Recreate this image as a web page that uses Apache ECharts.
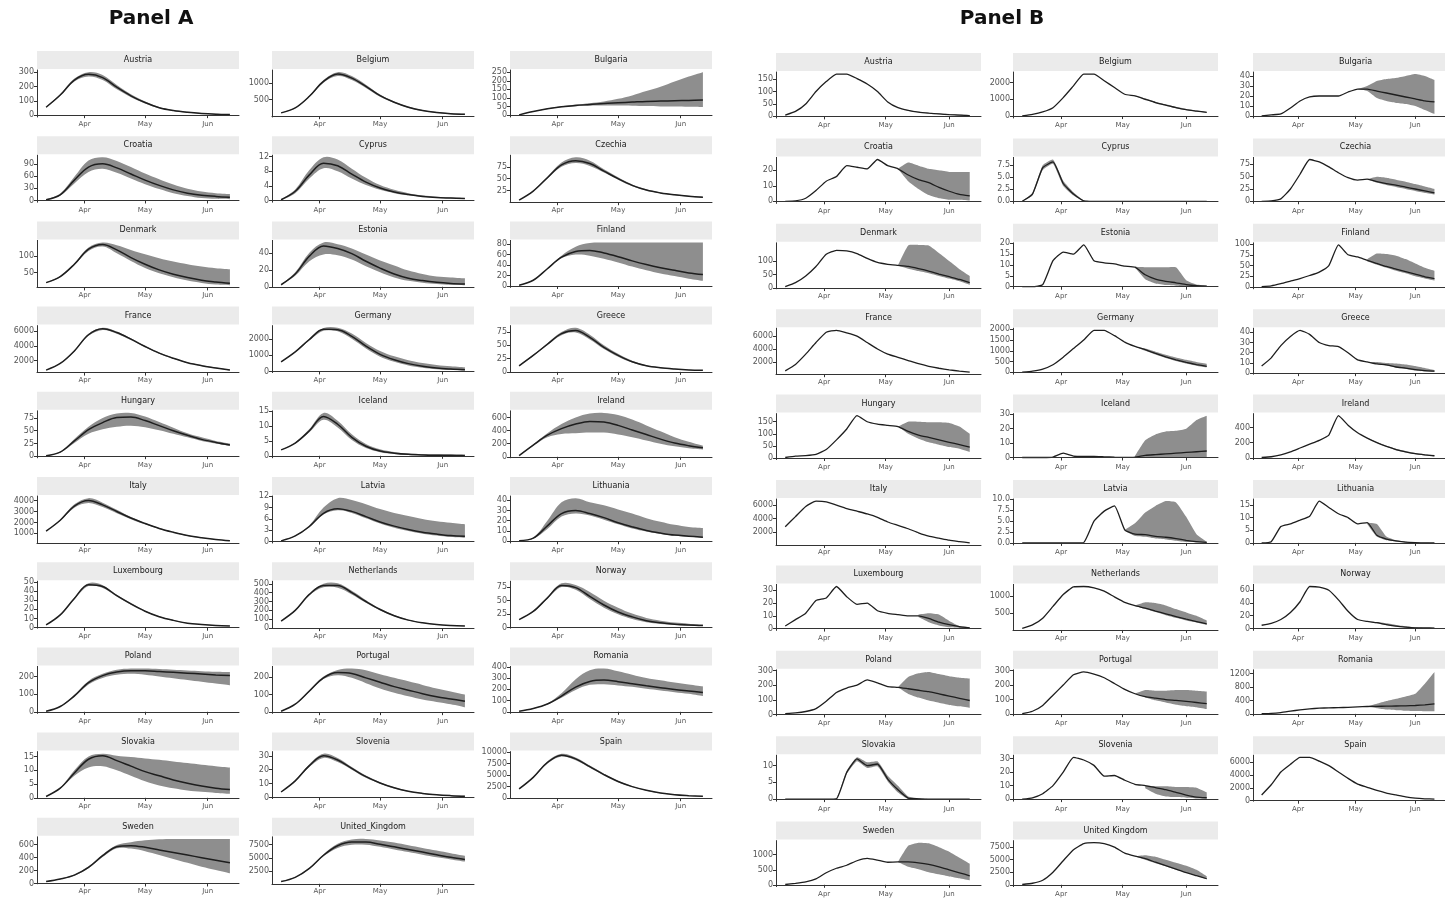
<!DOCTYPE html>
<html><head><meta charset="utf-8">
<script src="https://cdn.jsdelivr.net/npm/echarts@6/dist/echarts.min.js"></script>
<style>html,body{margin:0;padding:0;background:#fff}#c{width:1445px;height:902px}</style>
</head><body><div id="c"></div><script>
const _ = null;
// x values are day offsets from 1 March 2020
const monthTicks = [31, 61, 92];
const monthLabels = ['Apr', 'May', 'Jun'];
const daysA = [12,19,26,33,40,47,54,61,68,75,82,89,96,103];
const daysB = [12,17,22,27,32,37,42,47,52,57,62,67,72,77,82,87,92,97,102];

// ---------- Panel A ----------
const aAustriaMid=[55,140,245,285,262,195,135,88,52,32,20,12,7,4];
const aAustriaLo=[53,135,235,270,245,180,125,82,48,29,17,10,5,2];
const aAustriaHi=[57,145,255,300,280,210,145,95,57,36,23,15,10,7];
const aAustriaTicks=[0,100,200,300];
const aBelgiumMid=[100,250,600,1050,1270,1150,900,620,420,270,170,110,75,55];
const aBelgiumLo=[95,240,580,1010,1210,1090,850,585,395,250,155,95,60,40];
const aBelgiumHi=[105,260,620,1090,1330,1210,950,655,445,290,185,125,90,75];
const aBelgiumTicks=[500,1000];
const aBulgariaMid=[2,21,37,49,57,62,68,72,76,80,82,84,86,88];
const aBulgariaLo=[2,20,35,46,52,55,56,56,55,53,51,50,49,48];
const aBulgariaHi=[2,22,39,52,62,70,80,95,115,140,165,195,225,250];
const aBulgariaTicks=[0,50,100,150,200,250];
const aCroatiaMid=[2,14,50,82,90,80,65,50,37,26,18,13,10,8];
const aCroatiaLo=[1,12,42,70,78,68,54,40,28,18,11,6,4,3];
const aCroatiaHi=[3,17,58,98,106,97,82,66,52,39,29,22,18,16];
const aCroatiaTicks=[0,30,60,90];
const aCyprusMid=[0.2,2.5,7.0,10.2,9.5,7.2,5.0,3.4,2.3,1.6,1.1,0.8,0.65,0.5];
const aCyprusLo=[0.1,2.0,6.0,8.8,8.0,6.0,4.2,2.9,2.0,1.4,1.0,0.7,0.55,0.45];
const aCyprusHi=[0.3,3.0,8.3,11.8,11.2,8.7,6.2,4.2,2.9,2.0,1.4,1.0,0.8,0.65];
const aCyprusTicks=[0,4,8,12];
const aCzechiaMid=[5,24,52,79,88,82,66,50,36,26,20,16,13,11];
const aCzechiaLo=[5,23,50,75,83,77,63,48,34,25,19,15,12,10];
const aCzechiaHi=[5,25,54,84,95,88,70,53,38,28,21,17,14,12];
const aCzechiaTicks=[25,50,75,100];
const aDenmarkMid=[20,38,75,120,134,118,95,75,58,45,35,27,22,18];
const aDenmarkLo=[19,36,72,115,128,108,85,64,48,36,26,19,14,12];
const aDenmarkHi=[21,40,78,125,140,132,118,105,93,83,75,68,63,60];
const aDenmarkTicks=[0,50,100];
const aEstoniaMid=[2.4,15,36,48,45,39,30,22,15,10,7.3,5.3,4,3.3];
const aEstoniaLo=[2.2,13,30,38,37,32,24,17,11,7,4.8,3.3,2.3,1.8];
const aEstoniaHi=[2.6,17,40,52,50,45,38,31,25,19,15,12,11,10];
const aEstoniaTicks=[0,20,40];
const aFinlandMid=[1.5,11,33,55,66,68,63,56,48,41,35,30,25,22];
const aFinlandLo=[1.4,10.5,32,53,60,58,52,45,37,30,24,19,14,10];
const aFinlandHi=[1.6,11.5,34,58,75,82,83,83,83,83,83,83,83,83];
const aFinlandTicks=[0,20,40,60,80];
const aFranceMid=[700,1600,3300,5500,6300,5800,4900,3900,3000,2300,1700,1300,1000,700];
const aFranceLo=[680,1550,3200,5350,6150,5650,4780,3800,2920,2230,1650,1250,950,650];
const aFranceHi=[720,1650,3400,5650,6450,5950,5020,4000,3080,2370,1750,1350,1050,750];
const aFranceTicks=[2000,4000,6000];
const aGermanyMid=[590,1200,1960,2580,2560,2150,1550,1050,720,480,320,210,150,110];
const aGermanyLo=[570,1170,1900,2500,2460,2000,1400,900,590,370,230,140,90,60];
const aGermanyHi=[610,1230,2020,2660,2680,2320,1750,1260,930,690,520,400,320,260];
const aGermanyTicks=[0,1000,2000];
const aGreeceMid=[11.5,31,52,72,78,65,46,31,19,11.5,7.7,5.4,3.8,3];
const aGreeceLo=[11,30,50,69,74,61,43,28.5,17.5,10.5,7,4.9,3.4,2.7];
const aGreeceHi=[12,32,54,75,83,70,50,34,21,12.5,8.4,5.9,4.2,3.3];
const aGreeceTicks=[0,25,50,75];
const aHungaryMid=[1,8,30,52,66,76,77,70,60,50,41,33,27,22];
const aHungaryLo=[1,7,26,44,53,58,60,57,51,44,37,30,25,20];
const aHungaryHi=[1,9,34,58,75,84,85,78,67,56,45,37,30,25];
const aHungaryTicks=[0,25,50,75];
const aIcelandMid=[2,4.3,8.4,13.2,10.6,6.2,3.2,1.6,0.9,0.5,0.3,0.2,0.15,0.1];
const aIcelandLo=[1.9,4.1,7.9,12.1,9.5,5.3,2.6,1.2,0.6,0.3,0.15,0.1,0.05,0.05];
const aIcelandHi=[2.1,4.5,9,14.4,11.8,7.2,4,2.2,1.3,0.8,0.6,0.5,0.4,0.35];
const aIcelandTicks=[0,5,10,15];
const aIrelandMid=[20,180,330,430,500,540,530,480,410,340,270,210,170,140];
const aIrelandLo=[18,170,300,350,360,370,370,340,300,250,200,160,130,110];
const aIrelandHi=[22,190,360,500,600,660,670,640,570,480,390,300,230,170];
const aIrelandTicks=[0,200,400,600];
const aItalyMid=[1200,2200,3500,4000,3600,3000,2400,1900,1450,1100,800,600,450,330];
const aItalyLo=[1180,2150,3350,3780,3400,2850,2300,1830,1400,1060,770,575,430,315];
const aItalyHi=[1220,2250,3650,4220,3800,3150,2500,1970,1500,1140,830,625,470,345];
const aItalyTicks=[1000,2000,3000,4000];
const aLatviaMid=[0.2,1.5,4,7.5,8.7,8,6.6,5.2,4.1,3.2,2.5,2,1.6,1.4];
const aLatviaLo=[0.2,1.4,3.8,7.2,8.3,7.6,6.2,4.8,3.7,2.8,2.1,1.6,1.2,1];
const aLatviaHi=[0.2,1.6,4.3,9,11.5,11,9.9,8.6,7.6,6.8,6,5.4,5,4.6];
const aLatviaTicks=[0,3,6,9,12];
const aLithuaniaMid=[0.5,3,15,27,30,27,23,18,14,10.5,8,6,5,4];
const aLithuaniaLo=[0.4,2.5,12,24,27,25,21,16.5,12.5,9.5,7,5.3,4.2,3.5];
const aLithuaniaHi=[0.6,3.5,20,38,42,38,35,31,27,22.5,19,16,14,13];
const aLithuaniaTicks=[0,10,20,30,40];
const aLuxembourgMid=[3,14,32,47,45,35,26,18,12,8,5,3.5,2.5,2];
const aLuxembourgLo=[2.9,13.5,31,45.5,43.5,34,25,17.4,11.6,7.7,4.8,3.3,2.3,1.8];
const aLuxembourgHi=[3.1,14.5,33,48.5,46.5,36,27,18.6,12.4,8.3,5.2,3.7,2.7,2.2];
const aLuxembourgTicks=[0,10,20,30,40,50];
const aNetherlandsMid=[80,200,380,480,480,400,300,210,140,90,60,40,30,25];
const aNetherlandsLo=[78,195,370,460,455,380,285,200,133,85,57,38,28,23];
const aNetherlandsHi=[82,205,390,500,505,420,315,220,147,95,63,42,32,27];
const aNetherlandsTicks=[0,100,200,300,400,500];
const aNorwayMid=[15,30,55,78,74,58,42,29,20,13,9,6.5,5,4];
const aNorwayLo=[15,29,53,75,70,53,37,25,16,10,7,5,3.8,3];
const aNorwayHi=[15,31,57,82,79,66,50,37,26,18,13,9.5,7.5,6];
const aNorwayTicks=[0,25,50,75];
const aPolandMid=[3,30,90,165,205,225,232,232,228,224,219,214,209,205];
const aPolandLo=[3,28,84,155,192,210,215,210,200,190,180,170,160,150];
const aPolandHi=[3,32,96,175,215,238,245,245,242,238,234,230,227,225];
const aPolandTicks=[0,100,200];
const aPortugalMid=[5,45,120,195,225,220,195,170,145,125,105,88,75,62];
const aPortugalLo=[5,43,115,188,210,195,165,135,110,90,72,58,45,28];
const aPortugalHi=[5,47,125,202,240,248,238,215,195,175,155,135,118,100];
const aPortugalTicks=[0,100,200];
const aRomaniaMid=[5,30,70,140,220,270,282,268,250,232,215,198,185,172];
const aRomaniaLo=[5,28,65,125,195,240,245,235,222,205,190,175,160,140];
const aRomaniaHi=[5,32,75,165,290,370,385,360,330,300,280,260,242,225];
const aRomaniaTicks=[0,100,200,300,400];
const aSlovakiaMid=[0.5,3.5,9,14,15.3,13.5,11.5,9.5,8,6.5,5.3,4.3,3.5,3];
const aSlovakiaLo=[0.5,3.3,8,11,11.5,10,8,6,4.5,3.5,2.7,2.2,1.8,1.5];
const aSlovakiaHi=[0.5,3.7,10,15,16,15.3,14.8,14.3,13.8,13.2,12.6,12,11.5,11];
const aSlovakiaTicks=[0,5,10,15];
const aSloveniaMid=[4,12,23,30,27,21,15,10.5,7,4.5,3,2,1.4,1];
const aSloveniaLo=[3.9,11.5,22,28.5,25.5,20,14.2,10,6.6,4.2,2.8,1.8,1.2,0.8];
const aSloveniaHi=[4.1,12.5,24,31.5,28.5,22,15.8,11,7.4,4.8,3.2,2.2,1.6,1.2];
const aSloveniaTicks=[0,10,20,30];
const aSpainMid=[2000,4500,7700,9300,8500,6800,5100,3600,2500,1700,1100,750,550,400];
const aSpainLo=[1950,4400,7450,9000,8200,6550,4900,3450,2400,1630,1050,710,520,370];
const aSpainHi=[2050,4600,7950,9600,8800,7050,5300,3750,2600,1770,1150,790,580,430];
const aSpainTicks=[0,2500,5000,7500,10000];
const aSwedenMid=[30,70,130,250,430,570,585,560,520,480,440,400,360,320];
const aSwedenLo=[28,65,120,235,410,545,540,500,440,380,320,260,210,160];
const aSwedenHi=[32,75,140,265,450,595,640,670,685,690,690,690,690,690];
const aSwedenTicks=[0,200,400,600];
const aUKMid=[500,1300,3000,5500,7300,8000,8000,7600,7100,6600,6100,5600,5100,4700];
const aUKLo=[480,1250,2900,5300,6900,7500,7500,7100,6600,6100,5600,5100,4700,4300];
const aUKHi=[520,1350,3100,5700,7700,8500,8600,8300,7900,7400,6900,6400,5900,5400];
const aUKTicks=[2500,5000,7500];

// ---------- Panel B ----------
const bAustriaMid=[5,20,50,100,140,170,170,152,130,100,58,35,24,17,13,10,7,5,3];
const bAustriaLo=[_,_,_,_,_,_,_,_,_,_,_,35,23,16,12,9,6,4,2];
const bAustriaHi=[_,_,_,_,_,_,_,_,_,_,_,35,25,19,15,12,10,8,6];
const bAustriaTicks=[0,50,100,150];
const bBelgiumMid=[10,100,250,500,1100,1800,2500,2500,2100,1700,1300,1200,1000,800,650,500,380,300,220];
const bBelgiumLo=[_,_,_,_,_,_,_,_,_,_,_,1200,980,770,620,470,350,270,190];
const bBelgiumHi=[_,_,_,_,_,_,_,_,_,_,_,1200,1060,860,700,550,420,330,250];
const bBelgiumTicks=[0,1000,2000];
const bBulgariaMid=[0,1,2,8,15,19,20,20,20,24,27,27,25,23,21,19,17,15,14];
const bBulgariaLo=[_,_,_,_,_,_,_,_,_,_,27,25,18,15,13,12,10,6,2];
const bBulgariaHi=[_,_,_,_,_,_,_,_,_,_,27,30,35,37,38,40,42,40,36];
const bBulgariaTicks=[0,10,20,30,40];
const bCroatiaMid=[0,0.3,2,7,13,16,23,22,21,27,23,21,17,14,12,9,6.5,4.5,3.5];
const bCroatiaLo=[_,_,_,_,_,_,_,_,_,_,_,21,13,8,4,2,1,1,0.5];
const bCroatiaHi=[_,_,_,_,_,_,_,_,_,_,_,21,25,23,21,20,19,19,19];
const bCroatiaTicks=[0,10,20];
const bCyprusMid=[0,1.5,7,8.2,3.7,1.5,0.1,0,0,0,0,0,0,0,0,0,0,0,0];
const bCyprusLo=[0,1.2,6.5,7.8,3.2,1.2,0,0,0,0,0,0,0,0,0,0,0,0,0];
const bCyprusHi=[0,1.8,7.5,8.7,4.3,1.9,0.2,0,0,0,0,0,0,0,0,0,0,0,0];
const bCyprusTicks=[0,2.5,5,7.5];
const bCzechiaMid=[0,1,5,25,55,85,80,70,58,48,43,45,40,36,33,29,25,21,17];
const bCzechiaLo=[_,_,_,_,_,_,_,_,_,_,_,45,38,33,29,25,21,17,14];
const bCzechiaHi=[_,_,_,_,_,_,_,_,_,_,_,45,50,48,44,40,35,30,25];
const bCzechiaTicks=[0,25,50,75];
const bDenmarkMid=[5,20,45,80,125,140,138,128,110,95,88,84,80,72,63,52,42,32,20];
const bDenmarkLo=[_,_,_,_,_,_,_,_,_,_,_,84,72,63,55,45,35,25,12];
const bDenmarkHi=[_,_,_,_,_,_,_,_,_,_,_,84,158,160,158,130,100,70,45];
const bDenmarkTicks=[0,50,100];
const bEstoniaMid=[0,0,1,12,16,15,19.3,12,11,10.5,9.5,9,5.5,3.5,2.5,1.8,1,0.5,0.3];
const bEstoniaLo=[_,_,_,_,_,_,_,_,_,_,_,9,3.5,1.5,0.8,0.5,0.3,0.1,0];
const bEstoniaHi=[_,_,_,_,_,_,_,_,_,_,_,9.2,9,9,9,9,3,1,0.5];
const bEstoniaTicks=[0,5,10,15,20];
const bFinlandMid=[1,3,8,14,20,27,35,50,98,75,70,62,55,48,42,36,30,24,20];
const bFinlandLo=[_,_,_,_,_,_,_,_,_,_,_,60,52,45,38,32,25,20,15];
const bFinlandHi=[_,_,_,_,_,_,_,_,_,_,_,65,78,77,73,65,55,45,38];
const bFinlandTicks=[0,25,50,75,100];
const bFranceMid=[600,1600,3200,5000,6600,6900,6500,6000,5000,4000,3200,2700,2200,1700,1300,1000,750,550,400];
const bFranceTicks=[0,2000,4000,6000];
const bGermanyMid=[10,60,150,350,700,1100,1500,1950,1950,1700,1400,1200,1050,880,720,580,460,360,280];
const bGermanyLo=[_,_,_,_,_,_,_,_,_,_,_,1200,1000,830,670,530,410,310,230];
const bGermanyHi=[_,_,_,_,_,_,_,_,_,_,_,1200,1100,960,820,690,580,480,400];
const bGermanyTicks=[0,500,1000,1500,2000];
const bGreeceMid=[7,15,27,36,42,38,30,27,26,20,13,11,9,8,6,5,3.5,2.5,2];
const bGreeceLo=[_,_,_,_,_,_,_,_,_,_,_,11,9,7.5,5.5,4,2.5,1.5,1];
const bGreeceHi=[_,_,_,_,_,_,_,_,_,_,_,11,11,10,9.5,8.5,7,5,3];
const bGreeceTicks=[0,10,20,30,40];
const bHungaryMid=[2,8,10,15,35,75,120,175,150,140,135,130,110,95,85,75,65,55,45];
const bHungaryLo=[_,_,_,_,_,_,_,_,_,_,_,130,100,80,65,55,45,38,25];
const bHungaryHi=[_,_,_,_,_,_,_,_,_,_,_,130,150,150,148,148,145,130,100];
const bHungaryTicks=[0,50,100,150];
const bIcelandMid=[0,0,0,0.3,3,1,0.8,0.8,0.5,0.2,0.1,0.3,1.5,2,2.5,3,3.5,4,4.5];
const bIcelandLo=[_,_,_,_,_,_,_,_,_,_,_,0.1,0,0,0,0,0,0,0];
const bIcelandHi=[_,_,_,_,_,_,_,_,_,_,_,1,12,16,18,18.5,20,26,29];
const bIcelandTicks=[0,10,20,30];
const bIrelandMid=[5,15,40,80,130,180,230,300,555,430,330,260,200,150,110,80,55,40,28];
const bIrelandLo=[_,_,_,_,_,_,_,_,_,_,_,260,195,145,100,70,48,32,22];
const bIrelandHi=[_,_,_,_,_,_,_,_,_,_,_,260,210,160,120,90,65,48,35];
const bIrelandTicks=[0,200,400];
const bItalyMid=[2800,4300,5800,6600,6500,6000,5500,5100,4700,4200,3500,3000,2500,1900,1400,1100,800,600,400];
const bItalyTicks=[2000,4000,6000];
const bLatviaMid=[0,0,0,0,0,0,0.1,5,7.3,8.5,3,2,1.9,1.5,1.3,1,0.6,0.3,0.1];
const bLatviaLo=[_,_,_,_,_,_,_,_,_,_,2.8,1.6,1.4,1,0.8,0.5,0.2,0.1,0];
const bLatviaHi=[_,_,_,_,_,_,_,_,_,_,3,4.5,7,8.5,9.6,9.3,6,2,0.3];
const bLatviaTicks=[0,2.5,5,7.5,10];
const bLithuaniaMid=[0,0.5,6.5,7.5,9,10.5,16.5,14,11.5,10,7.5,8,3,1.5,0.8,0.3,0.1,0,0];
const bLithuaniaLo=[_,_,_,_,_,_,_,_,_,_,_,7.5,2.5,1,0.5,0.2,0,0,0];
const bLithuaniaHi=[_,_,_,_,_,_,_,_,_,_,_,8,7.5,2.5,1,0.5,0.2,0.1,0];
const bLithuaniaTicks=[0,5,10,15];
const bLuxembourgMid=[2,7,12,22,24,33,25,19,20,14,12,11,10,10,8,5,3,1.5,0.5];
const bLuxembourgLo=[_,_,_,_,_,_,_,_,_,_,_,_,_,9,5,2.5,1,0.5,0.2];
const bLuxembourgHi=[_,_,_,_,_,_,_,_,_,_,_,_,_,11,12,11,6,2,1];
const bLuxembourgTicks=[0,10,20,30];
const bNetherlandsMid=[50,150,350,700,1050,1280,1290,1250,1150,980,820,720,650,560,480,400,320,250,180];
const bNetherlandsLo=[_,_,_,_,_,_,_,_,_,_,_,720,620,530,440,360,280,220,150];
const bNetherlandsHi=[_,_,_,_,_,_,_,_,_,_,_,720,820,800,730,620,520,420,280];
const bNetherlandsTicks=[500,1000];
const bNorwayMid=[5,8,14,25,42,66,65,60,45,27,14,11,9,6,3.5,2,1,0.8,0.5];
const bNorwayLo=[_,_,_,_,_,_,_,_,_,_,_,11,8,5,3,1.5,0.5,0.3,0.2];
const bNorwayHi=[_,_,_,_,_,_,_,_,_,_,_,11,10,8,5.5,3.5,2,1.2,1];
const bNorwayTicks=[0,20,40,60];
const bPolandMid=[5,10,20,40,90,150,180,200,235,215,190,185,175,165,155,140,125,110,95];
const bPolandLo=[_,_,_,_,_,_,_,_,_,_,_,185,140,115,95,80,65,55,45];
const bPolandHi=[_,_,_,_,_,_,_,_,_,_,_,185,255,280,290,275,260,250,245];
const bPolandTicks=[0,100,200,300];
const bPortugalMid=[3,20,60,130,200,270,290,275,250,210,170,140,120,110,100,95,88,80,72];
const bPortugalLo=[_,_,_,_,_,_,_,_,_,_,_,140,115,95,80,65,55,48,35];
const bPortugalHi=[_,_,_,_,_,_,_,_,_,_,_,140,165,160,160,165,165,160,155];
const bPortugalTicks=[0,100,200,300];
const bRomaniaMid=[5,15,40,80,120,150,170,180,185,195,210,220,225,230,235,240,250,270,300];
const bRomaniaLo=[_,_,_,_,_,_,_,_,_,_,_,220,170,130,110,95,85,80,75];
const bRomaniaHi=[_,_,_,_,_,_,_,_,_,_,_,220,300,380,450,520,600,900,1250];
const bRomaniaTicks=[0,400,800,1200];
const bSlovakiaMid=[0,0,0,0,0,0.1,8,12,10,10.5,6,2.8,0.3,0.1,0,0,0,0,0];
const bSlovakiaLo=[0,0,0,0,0,0,7.5,11.3,9.3,9.8,5.3,2,0,0,0,0,0,0,0];
const bSlovakiaHi=[0,0,0,0,0,0.2,8.5,12.5,11,11.3,7,4,0.8,0.3,0,0,0,0,0];
const bSlovakiaTicks=[0,5,10];
const bSloveniaMid=[0,1,4,10,20,31,29,25,17,17.5,14,11,10,8.5,7,5,3,1.5,1];
const bSloveniaLo=[_,_,_,_,_,_,_,_,_,_,_,_,8,4,2,1.5,1,0.5,0.3];
const bSloveniaHi=[_,_,_,_,_,_,_,_,_,_,_,_,10,9.5,9.5,9,9,8.5,5];
const bSloveniaTicks=[0,10,20,30];
const bSpainMid=[900,2500,4500,5700,6800,6800,6200,5500,4500,3500,2600,2100,1600,1200,900,600,400,300,250];
const bSpainTicks=[0,2000,4000,6000];
const bSwedenMid=[10,50,100,200,400,550,650,800,880,820,750,760,760,730,680,600,500,400,300];
const bSwedenLo=[_,_,_,_,_,_,_,_,_,_,_,760,600,520,420,350,280,220,150];
const bSwedenHi=[_,_,_,_,_,_,_,_,_,_,_,760,1300,1400,1380,1250,1100,900,700];
const bSwedenTicks=[0,500,1000];
const bUKMid=[50,300,900,2500,4800,7000,8200,8400,8200,7500,6300,5700,5200,4500,3800,3100,2400,1800,1200];
const bUKLo=[_,_,_,_,_,_,_,_,_,_,_,5700,5000,4300,3700,3000,2400,1800,1100];
const bUKHi=[_,_,_,_,_,_,_,_,_,_,_,5700,5900,5600,5000,4400,3800,3000,1700];
const bUKTicks=[0,2500,5000,7500];

const panelsA = [
  ['Austria',aAustriaMid,aAustriaLo,aAustriaHi,aAustriaTicks],
  ['Belgium',aBelgiumMid,aBelgiumLo,aBelgiumHi,aBelgiumTicks],
  ['Bulgaria',aBulgariaMid,aBulgariaLo,aBulgariaHi,aBulgariaTicks],
  ['Croatia',aCroatiaMid,aCroatiaLo,aCroatiaHi,aCroatiaTicks],
  ['Cyprus',aCyprusMid,aCyprusLo,aCyprusHi,aCyprusTicks],
  ['Czechia',aCzechiaMid,aCzechiaLo,aCzechiaHi,aCzechiaTicks],
  ['Denmark',aDenmarkMid,aDenmarkLo,aDenmarkHi,aDenmarkTicks],
  ['Estonia',aEstoniaMid,aEstoniaLo,aEstoniaHi,aEstoniaTicks],
  ['Finland',aFinlandMid,aFinlandLo,aFinlandHi,aFinlandTicks],
  ['France',aFranceMid,aFranceLo,aFranceHi,aFranceTicks],
  ['Germany',aGermanyMid,aGermanyLo,aGermanyHi,aGermanyTicks],
  ['Greece',aGreeceMid,aGreeceLo,aGreeceHi,aGreeceTicks],
  ['Hungary',aHungaryMid,aHungaryLo,aHungaryHi,aHungaryTicks],
  ['Iceland',aIcelandMid,aIcelandLo,aIcelandHi,aIcelandTicks],
  ['Ireland',aIrelandMid,aIrelandLo,aIrelandHi,aIrelandTicks],
  ['Italy',aItalyMid,aItalyLo,aItalyHi,aItalyTicks],
  ['Latvia',aLatviaMid,aLatviaLo,aLatviaHi,aLatviaTicks],
  ['Lithuania',aLithuaniaMid,aLithuaniaLo,aLithuaniaHi,aLithuaniaTicks],
  ['Luxembourg',aLuxembourgMid,aLuxembourgLo,aLuxembourgHi,aLuxembourgTicks],
  ['Netherlands',aNetherlandsMid,aNetherlandsLo,aNetherlandsHi,aNetherlandsTicks],
  ['Norway',aNorwayMid,aNorwayLo,aNorwayHi,aNorwayTicks],
  ['Poland',aPolandMid,aPolandLo,aPolandHi,aPolandTicks],
  ['Portugal',aPortugalMid,aPortugalLo,aPortugalHi,aPortugalTicks],
  ['Romania',aRomaniaMid,aRomaniaLo,aRomaniaHi,aRomaniaTicks],
  ['Slovakia',aSlovakiaMid,aSlovakiaLo,aSlovakiaHi,aSlovakiaTicks],
  ['Slovenia',aSloveniaMid,aSloveniaLo,aSloveniaHi,aSloveniaTicks],
  ['Spain',aSpainMid,aSpainLo,aSpainHi,aSpainTicks],
  ['Sweden',aSwedenMid,aSwedenLo,aSwedenHi,aSwedenTicks],
  ['United_Kingdom',aUKMid,aUKLo,aUKHi,aUKTicks]
];
const panelsB = [
  ['Austria',bAustriaMid,bAustriaLo,bAustriaHi,bAustriaTicks],
  ['Belgium',bBelgiumMid,bBelgiumLo,bBelgiumHi,bBelgiumTicks],
  ['Bulgaria',bBulgariaMid,bBulgariaLo,bBulgariaHi,bBulgariaTicks],
  ['Croatia',bCroatiaMid,bCroatiaLo,bCroatiaHi,bCroatiaTicks],
  ['Cyprus',bCyprusMid,bCyprusLo,bCyprusHi,bCyprusTicks],
  ['Czechia',bCzechiaMid,bCzechiaLo,bCzechiaHi,bCzechiaTicks],
  ['Denmark',bDenmarkMid,bDenmarkLo,bDenmarkHi,bDenmarkTicks],
  ['Estonia',bEstoniaMid,bEstoniaLo,bEstoniaHi,bEstoniaTicks],
  ['Finland',bFinlandMid,bFinlandLo,bFinlandHi,bFinlandTicks],
  ['France',bFranceMid,null,null,bFranceTicks],
  ['Germany',bGermanyMid,bGermanyLo,bGermanyHi,bGermanyTicks],
  ['Greece',bGreeceMid,bGreeceLo,bGreeceHi,bGreeceTicks],
  ['Hungary',bHungaryMid,bHungaryLo,bHungaryHi,bHungaryTicks],
  ['Iceland',bIcelandMid,bIcelandLo,bIcelandHi,bIcelandTicks],
  ['Ireland',bIrelandMid,bIrelandLo,bIrelandHi,bIrelandTicks],
  ['Italy',bItalyMid,null,null,bItalyTicks],
  ['Latvia',bLatviaMid,bLatviaLo,bLatviaHi,bLatviaTicks],
  ['Lithuania',bLithuaniaMid,bLithuaniaLo,bLithuaniaHi,bLithuaniaTicks],
  ['Luxembourg',bLuxembourgMid,bLuxembourgLo,bLuxembourgHi,bLuxembourgTicks],
  ['Netherlands',bNetherlandsMid,bNetherlandsLo,bNetherlandsHi,bNetherlandsTicks],
  ['Norway',bNorwayMid,bNorwayLo,bNorwayHi,bNorwayTicks],
  ['Poland',bPolandMid,bPolandLo,bPolandHi,bPolandTicks],
  ['Portugal',bPortugalMid,bPortugalLo,bPortugalHi,bPortugalTicks],
  ['Romania',bRomaniaMid,bRomaniaLo,bRomaniaHi,bRomaniaTicks],
  ['Slovakia',bSlovakiaMid,bSlovakiaLo,bSlovakiaHi,bSlovakiaTicks],
  ['Slovenia',bSloveniaMid,bSloveniaLo,bSloveniaHi,bSloveniaTicks],
  ['Spain',bSpainMid,null,null,bSpainTicks],
  ['Sweden',bSwedenMid,bSwedenLo,bSwedenHi,bSwedenTicks],
  ['United Kingdom',bUKMid,bUKLo,bUKHi,bUKTicks]
];

// ---------- layout & styling ----------
const layoutA = {left:[37,272,510], width:202, top0:51, step:85.2, strip:18, plotTop:19, plotBottom:66, smooth:0.35, lw:1.5};
const layoutB = {left:[776,1013,1253], width:205, top0:53, step:85.4, strip:18, plotTop:19, plotBottom:65, smooth:0.15, lw:1.3};
const FONT = '"DejaVu Sans", "Liberation Sans", sans-serif';
const BAND = '#8e8e8e';
const grids=[], xAxes=[], yAxes=[], series=[], graphics=[];

// cubic-bezier continuation through pixel points (same scheme as ECharts line smoothing)
function bezierThrough(pts, s){
  const n = pts.length;
  const cps = pts.map((p, i) => {
    if (i === 0 || i === n - 1 || s <= 0) return [p, p];
    const a = pts[i-1], b = pts[i+1];
    const vx = b[0] - a[0], vy = b[1] - a[1];
    const l0 = Math.hypot(p[0]-a[0], p[1]-a[1]), l1 = Math.hypot(b[0]-p[0], b[1]-p[1]);
    const r = (l0 + l1) > 0 ? l1 / (l0 + l1) : 0.5;
    return [[p[0] - vx*s*(1-r), p[1] - vy*s*(1-r)], [p[0] + vx*s*r, p[1] + vy*s*r]];
  });
  let d = '';
  for (let i = 1; i < n; i++) {
    const c1 = cps[i-1][1], c2 = cps[i][0], p = pts[i];
    d += 'C' + c1[0] + ',' + c1[1] + ' ' + c2[0] + ',' + c2[1] + ' ' + p[0] + ',' + p[1];
  }
  return d;
}

function addPanel(p, i, days, L){
  const [name, mid, lo, hi, ticks] = p;
  const col = i % 3, row = Math.floor(i / 3);
  const left = L.left[col], top = L.top0 + row * L.step;
  graphics.push({type:'rect', silent:true, shape:{x:left, y:top, width:L.width, height:L.strip}, style:{fill:'#ebebeb'}});
  graphics.push({type:'text', silent:true, x:left + L.width/2, y:top + L.strip/2,
    style:{text:name, fill:'#1a1a1a', font:'8px ' + FONT, align:'center', verticalAlign:'middle'}});
  const g = grids.length;
  grids.push({left:left, top:top + L.plotTop, width:L.width, height:L.plotBottom - L.plotTop});
  const vals = mid.concat(lo || [], hi || []).filter(v => v != null);
  const mn = Math.min(...vals), mx = Math.max(...vals), pad = (mx - mn) * 0.05;
  const dec = ticks.some(t => !Number.isInteger(t)) ? 1 : 0;
  xAxes.push({type:'value', gridIndex:g, min:7.5, max:107.5, z:10,
    axisLine:{lineStyle:{color:'#333', width:1}},
    axisTick:{customValues:monthTicks, length:3, lineStyle:{color:'#333'}},
    axisLabel:{customValues:monthTicks, formatter:v => monthLabels[monthTicks.indexOf(v)], fontSize:7, fontFamily:FONT, color:'#555', margin:4},
    splitLine:{show:false}});
  yAxes.push({type:'value', gridIndex:g, min:mn - pad, max:mx + pad, z:10,
    axisLine:{show:true, lineStyle:{color:'#333', width:1}},
    axisTick:{show:true, customValues:ticks, length:3, lineStyle:{color:'#333'}},
    axisLabel:{customValues:ticks, formatter:v => v.toFixed(dec), fontSize:8, fontFamily:FONT, color:'#555', margin:3},
    splitLine:{show:false}});
  if (lo) {
    series.push({type:'custom', xAxisIndex:g, yAxisIndex:g, silent:true, z:1, clip:true, data:[0],
      renderItem:(params, api) => {
        const up = [], dn = [];
        days.forEach((d, k) => {
          if (lo[k] != null && hi[k] != null) { up.push(api.coord([d, hi[k]])); dn.push(api.coord([d, lo[k]])); }
        });
        if (up.length < 2) return null;
        dn.reverse();
        const path = 'M' + up[0][0] + ',' + up[0][1] + bezierThrough(up, L.smooth) +
                     'L' + dn[0][0] + ',' + dn[0][1] + bezierThrough(dn, L.smooth) + 'Z';
        return {type:'path', shape:{pathData:path}, style:{fill:BAND, stroke:null}};
      }});
  }
  series.push({type:'line', xAxisIndex:g, yAxisIndex:g, silent:true, symbol:'none', smooth:L.smooth, z:3,
    lineStyle:{color:'#1e1e1e', width:L.lw}, data:days.map((d,k) => [d, mid[k]])});
}
panelsA.forEach((p,i) => addPanel(p, i, daysA, layoutA));
panelsB.forEach((p,i) => addPanel(p, i, daysB, layoutB));
graphics.push({type:'text', silent:true, x:151, y:19, style:{text:'Panel A', fill:'#111', font:'bold 20px ' + FONT, align:'center', verticalAlign:'middle'}});
graphics.push({type:'text', silent:true, x:1002, y:19, style:{text:'Panel B', fill:'#111', font:'bold 20px ' + FONT, align:'center', verticalAlign:'middle'}});

const chart = echarts.init(document.getElementById('c'), null, {renderer:'canvas'});
chart.setOption({animation:false, backgroundColor:'#fff', grid:grids, xAxis:xAxes, yAxis:yAxes, series:series, graphic:graphics});
</script></body></html>
